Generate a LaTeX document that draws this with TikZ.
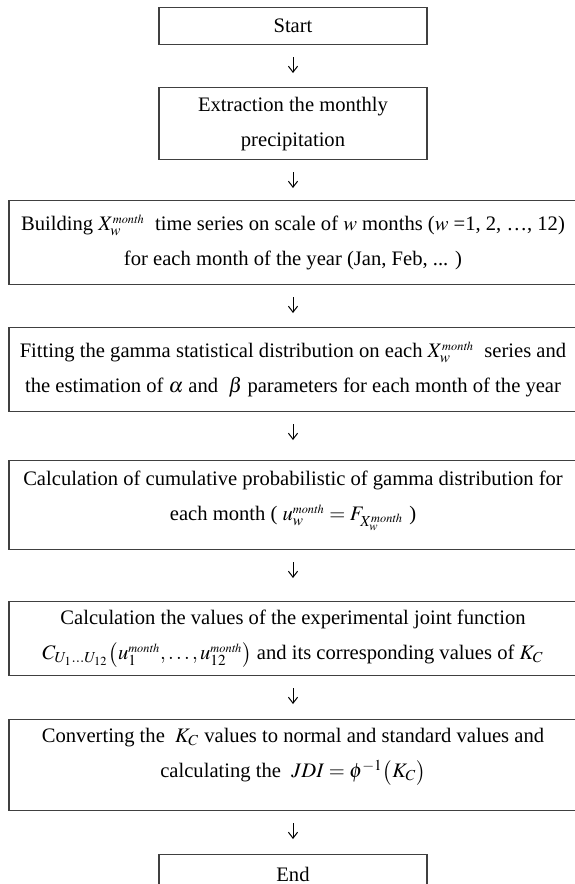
\documentclass[tikz,border=0pt]{standalone}
\usepackage{mathptmx}
\usepackage{fontspec}
\setmainfont{Liberation Serif}
\usepackage{tikz}
\usetikzlibrary{arrows.meta}
\newcommand\mo{\scriptscriptstyle\mathit{month}}
\newcommand\padb[1]{\rule[-#1]{0pt}{#1}}

\begin{document}
\begin{tikzpicture}[
  x=.5pt,y=-.5pt,
  flow/.style={-{Straight Barb[length=3pt,width=4.6pt]},line width=.5pt,shorten <=6pt},
  box/.style={draw=black!75,line width=.65pt,anchor=north,align=center,
    inner sep=0pt,font=\fontsize{10.3}{17.5}\selectfont},
  small/.style={box,minimum width=134pt},
  wide/.style={box,minimum width=284pt}]
\useasboundingbox (0,0) rectangle (574,884);
\node[small,minimum height=18.5pt] (start) at (293,7) {Start};
\node[small,minimum height=36pt] (extract) at (293,87)
 {Extraction the monthly\\precipitation};
\node[wide,minimum height=42pt] (build) at (293,200)
 {Building $X_w^{\mo}$\ \ time series on scale of $w$ months ($w$ =1, 2, …, 12)\\
  for each month of the year (Jan, Feb, ... )};
\node[wide,minimum height=42pt] (fit) at (293,327)
 {Fitting the gamma statistical distribution on each\ $X_w^{\mo}$\ \ series and\\
  the estimation of $\alpha$ and\ \ $\beta$ parameters for each month of the year};
\node[wide,minimum height=44.5pt] (cumul) at (293,460)
 {Calculation of cumulative probabilistic of gamma distribution for\\
  each month ( $u_w^{\mo}=F_{X_w^{\mo}}$ )\padb{9pt}};
\node[wide,minimum height=37pt] (joint) at (293,601)
 {Calculation the values of the experimental joint function\\
  $C_{U_1\ldots U_{12}}\bigl(u_1^{\mo},\ldots,u_{12}^{\mo}\bigr)$ and its corresponding values of\ $K_C$};
\node[wide,minimum height=45.5pt] (jdi) at (293,719)
 {Converting the\ \ $K_C$ values to normal and standard values and\\
  calculating the\ \ $JDI=\phi^{-1}\bigl(K_C\bigr)$\padb{12pt}};
\node[small,minimum height=20pt] (end) at (293,854) {End};
\draw[flow,shorten >=7pt] (start)--(extract);
\draw[flow,shorten >=6pt] (extract)--(build);
\draw[flow,shorten >=7pt] (build)--(fit);
\draw[flow,shorten >=10pt] (fit)--(cumul);
\draw[flow,shorten >=11.5pt] (cumul)--(joint);
\draw[flow,shorten >=7.5pt] (joint)--(jdi);
\draw[flow,shorten >=7.5pt] (jdi)--(end);
\end{tikzpicture}
\end{document}
